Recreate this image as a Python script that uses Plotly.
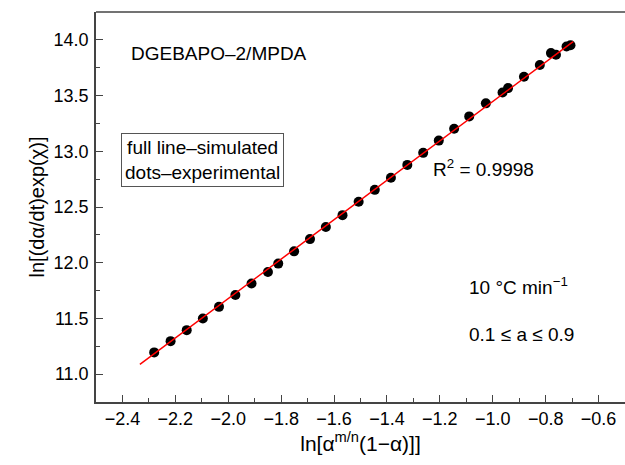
import plotly.graph_objects as go

# experimental points
x_exp = [-2.280, -2.218, -2.157, -2.096, -2.035, -1.973, -1.912, -1.850, -1.811,
         -1.751, -1.691, -1.631, -1.568, -1.507, -1.446, -1.385, -1.323, -1.263,
         -1.204, -1.146, -1.089, -1.026, -0.963, -0.942, -0.882, -0.822, -0.780,
         -0.761, -0.721, -0.706]
y_exp = [11.195, 11.296, 11.395, 11.500, 11.604, 11.711, 11.813, 11.917, 11.992,
         12.102, 12.212, 12.320, 12.427, 12.547, 12.654, 12.762, 12.878, 12.986,
         13.096, 13.203, 13.313, 13.430, 13.528, 13.567, 13.669, 13.774, 13.881,
         13.866, 13.940, 13.952]

# simulated line
x_sim = [-2.334, -0.696]
y_sim = [11.088, 13.985]

x_ticks = [-2.4, -2.2, -2.0, -1.8, -1.6, -1.4, -1.2, -1.0, -0.8, -0.6]
y_ticks = [11.0, 11.5, 12.0, 12.5, 13.0, 13.5, 14.0]

FONT = "Liberation Sans, Arial, sans-serif"

fig = go.Figure()
fig.add_trace(go.Scatter(x=x_exp, y=y_exp, mode="markers",
                         marker=dict(color="black", size=10), showlegend=False))
fig.add_trace(go.Scatter(x=x_sim, y=y_sim, mode="lines",
                         line=dict(color="#ff0000", width=1.5), showlegend=False))

axis_common = dict(showgrid=False, zeroline=False, showline=True,
                   linecolor="#444", linewidth=1.5, ticks="inside",
                   ticklen=7, tickwidth=1, tickcolor="#444",
                   tickfont=dict(family=FONT, size=18, color="black"))

fig.update_xaxes(range=[-2.5, -0.5], tickvals=x_ticks,
                 ticktext=[f"{v:.1f}".replace("-", "−") for v in x_ticks],
                 ticklabelstandoff=0,
                 minor=dict(dtick=0.1, ticks="inside", ticklen=4, tickcolor="#444"),
                 title=dict(text="ln[α<sup>m/n</sup>(1−α)]]",
                            font=dict(family=FONT, size=21, color="black"), standoff=8),
                 **axis_common)
fig.update_yaxes(range=[10.75, 14.25], tickvals=y_ticks,
                 ticktext=[f"{v:.1f}" for v in y_ticks],
                 ticklabelstandoff=2,
                 minor=dict(dtick=0.25, ticks="inside", ticklen=4, tickcolor="#444"),
                 title=dict(text="ln[(dα/dt)exp(χ)]",
                            font=dict(family=FONT, size=20, color="black"), standoff=4),
                 **axis_common)

fig.add_shape(type="line", xref="paper", yref="paper", x0=0, x1=1, y0=1, y1=1,
              line=dict(color="#444", width=1.5))

tf = dict(family=FONT, size=19, color="black")
fig.add_annotation(x=-2.375, y=13.88, xref="x", yref="y", text="DGEBAPO–2/MPDA",
                   showarrow=False, xanchor="left", yanchor="middle", font=tf)
fig.add_annotation(x=-2.405, y=12.926, xref="x", yref="y",
                   text="full line–simulated<br>dots–experimental",
                   showarrow=False, xanchor="left", yanchor="middle", font=tf,
                   bordercolor="#555", borderwidth=1, borderpad=3, align="center")
fig.add_annotation(x=-1.232, y=12.85, xref="x", yref="y", text="R<sup>2</sup> = 0.9998",
                   showarrow=False, xanchor="left", yanchor="middle", font=tf)
fig.add_annotation(x=-1.096, y=11.79, xref="x", yref="y", text="10 °C min<sup>−1</sup>",
                   showarrow=False, xanchor="left", yanchor="middle", font=tf)
fig.add_annotation(x=-1.096, y=11.36, xref="x", yref="y", text="0.1 ≤ a ≤ 0.9",
                   showarrow=False, xanchor="left", yanchor="middle", font=tf)

fig.update_layout(width=625, height=465, margin=dict(l=96, r=0, t=12, b=63),
                  plot_bgcolor="white", paper_bgcolor="white",
                  font=dict(family=FONT))
fig.write_html("out.html")
